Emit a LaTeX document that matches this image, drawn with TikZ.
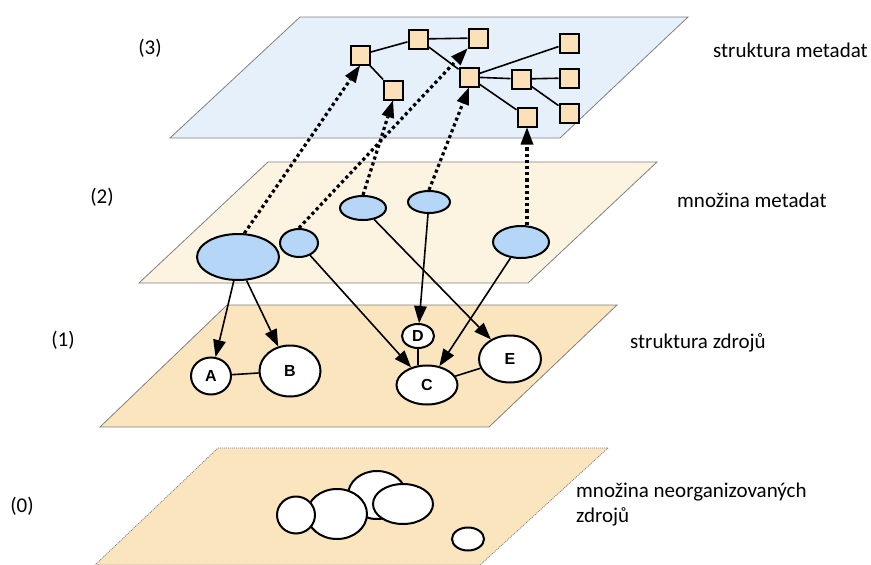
\documentclass[tikz,border=0pt]{standalone}
\usepackage{fontspec}
\setmainfont{Carlito}
\newfontfamily\letterfont{Liberation Sans}
\usepackage{xcolor}
\usepackage{tikz}
\usetikzlibrary{arrows.meta,shapes.geometric}

\definecolor{planeblue}{HTML}{E6F0FA}
\definecolor{planelight}{HTML}{FDF3E1}
\definecolor{planesand}{HTML}{FBE5BE}
\definecolor{metablue}{HTML}{B5D6F7}
\definecolor{boxpeach}{HTML}{FCE0B8}

\begin{document}
\begin{tikzpicture}[x=1pt,y=-1pt,
  plane/.style={draw=gray,line width=0.8pt},
  metabox/.style={draw,fill=boxpeach,line width=2pt,minimum size=19pt,inner sep=0pt},
  metaset/.style={ellipse,draw,fill=metablue,line width=2pt,inner sep=0pt},
  source/.style={ellipse,draw,fill=white,line width=2pt,inner sep=0pt,font=\letterfont\bfseries\fontsize{16}{16}\selectfont},
  link/.style={line width=1.6pt},
  maps/.style={line width=1.6pt,-{Triangle[length=17pt,width=13pt,line width=0pt]}},
  lifts/.style={line width=3.2pt,dash pattern=on 3.2pt off 3pt,-{Triangle[length=17pt,width=13pt,line width=0pt]}},
  layertext/.style={font=\fontsize{21}{25}\selectfont,inner sep=0pt}
]
\useasboundingbox (0,0) rectangle (871,565);

\draw[plane,fill=planeblue] (300,17) -- (688,17) -- (560,138) -- (170,138) -- cycle;
\draw[plane,fill=planelight] (268,162) -- (657,162) -- (528,283) -- (139,283) -- cycle;
\draw[plane,fill=planesand] (227,305) -- (617,305) -- (489,427) -- (100,427) -- cycle;
\draw[plane,fill=planesand,dash pattern=on 1pt off 1pt] (218,448) -- (608,448) -- (480,565) -- (95,565) -- cycle;

\node[metabox] (t1) at (360,55) {};
\node[metabox] (t2) at (418,39) {};
\node[metabox] (t3) at (478,38) {};
\node[metabox] (t4) at (393,90) {};
\node[metabox] (t5) at (469,77) {};
\node[metabox] (t6) at (569,43) {};
\node[metabox] (t7) at (521,79) {};
\node[metabox] (t8) at (569,78) {};
\node[metabox] (t9) at (569,113) {};
\node[metabox] (t10) at (527,117) {};
\draw[link] (t1) -- (t2) -- (t3);
\draw[link] (t1) -- (t4);
\draw[link] (t2) -- (t5);
\draw[link] (t5) -- (t6);
\draw[link] (t5) -- (t7) -- (t8);
\draw[link] (t7) -- (t9);
\draw[link] (t5) -- (t10);

\node[metaset,minimum width=82pt,minimum height=46pt] (m1) at (238,257) {};
\node[metaset,minimum width=38pt,minimum height=28pt] (m2) at (299,243) {};
\node[metaset,minimum width=46pt,minimum height=24pt] (m3) at (363,208) {};
\node[metaset,minimum width=42pt,minimum height=22pt] (m4) at (429,202) {};
\node[metaset,minimum width=56pt,minimum height=32pt] (m5) at (521,242) {};

\node[source,minimum width=40pt,minimum height=37pt] (A) at (211,376) {A};
\node[source,minimum width=61pt,minimum height=51pt] (B) at (290,371) {B};
\node[source,minimum width=61pt,minimum height=39pt] (C) at (427,385) {C};
\node[source,minimum width=32pt,minimum height=24pt] (D) at (418,336) {D};
\node[source,minimum width=62pt,minimum height=47pt] (E) at (510,359) {E};
\draw[link] (A) -- (B);
\draw[link] (D) -- (D |- C.north);
\draw[link] (C) -- (E);

\node[source,minimum width=58pt,minimum height=48pt] (u3) at (377,495) {};
\node[source,minimum width=60pt,minimum height=50pt] (u2) at (337,514) {};
\node[source,minimum width=38pt,minimum height=37pt] (u1) at (296,515) {};
\node[source,minimum width=60pt,minimum height=40pt] (u4) at (403,504) {};
\node[source,minimum width=32pt,minimum height=23pt] (u5) at (468,539) {};

\draw[maps] (m1.-100) -- (A);
\draw[maps] (m1.-70) -- (B);
\draw[maps] (m2) -- (C);
\draw[maps] (m3) -- (E);
\draw[maps] (m4) -- (D);
\draw[maps] (m5) -- (C);

\draw[lifts] (m1.75) -- (t1.south);
\draw[lifts] (m2.north) -- (t3.south west);
\draw[lifts] (m3.north) -- (t4.south);
\draw[lifts] (m4.north) -- (t5.south);
\draw[lifts] (m5.north -| t10.south) -- (t10.south);

\node[layertext] (n3) at (150,48) {(3)};
\node[layertext] (n2) at (102,197) {(2)};
\node[layertext] (n1) at (63,340) {(1)};
\node[layertext] (n0) at (22,506) {(0)};
\node[layertext,anchor=west] (l3) at (713,50) {struktura metadat};
\node[layertext,anchor=west] (l2) at (677,200) {množina metadat};
\node[layertext,anchor=west] (l1) at (630,343) {struktura zdrojů};
\node[layertext,anchor=west,align=left] (l0) at (576,505) {množina neorganizovaných\\zdrojů};
\end{tikzpicture}
\end{document}
